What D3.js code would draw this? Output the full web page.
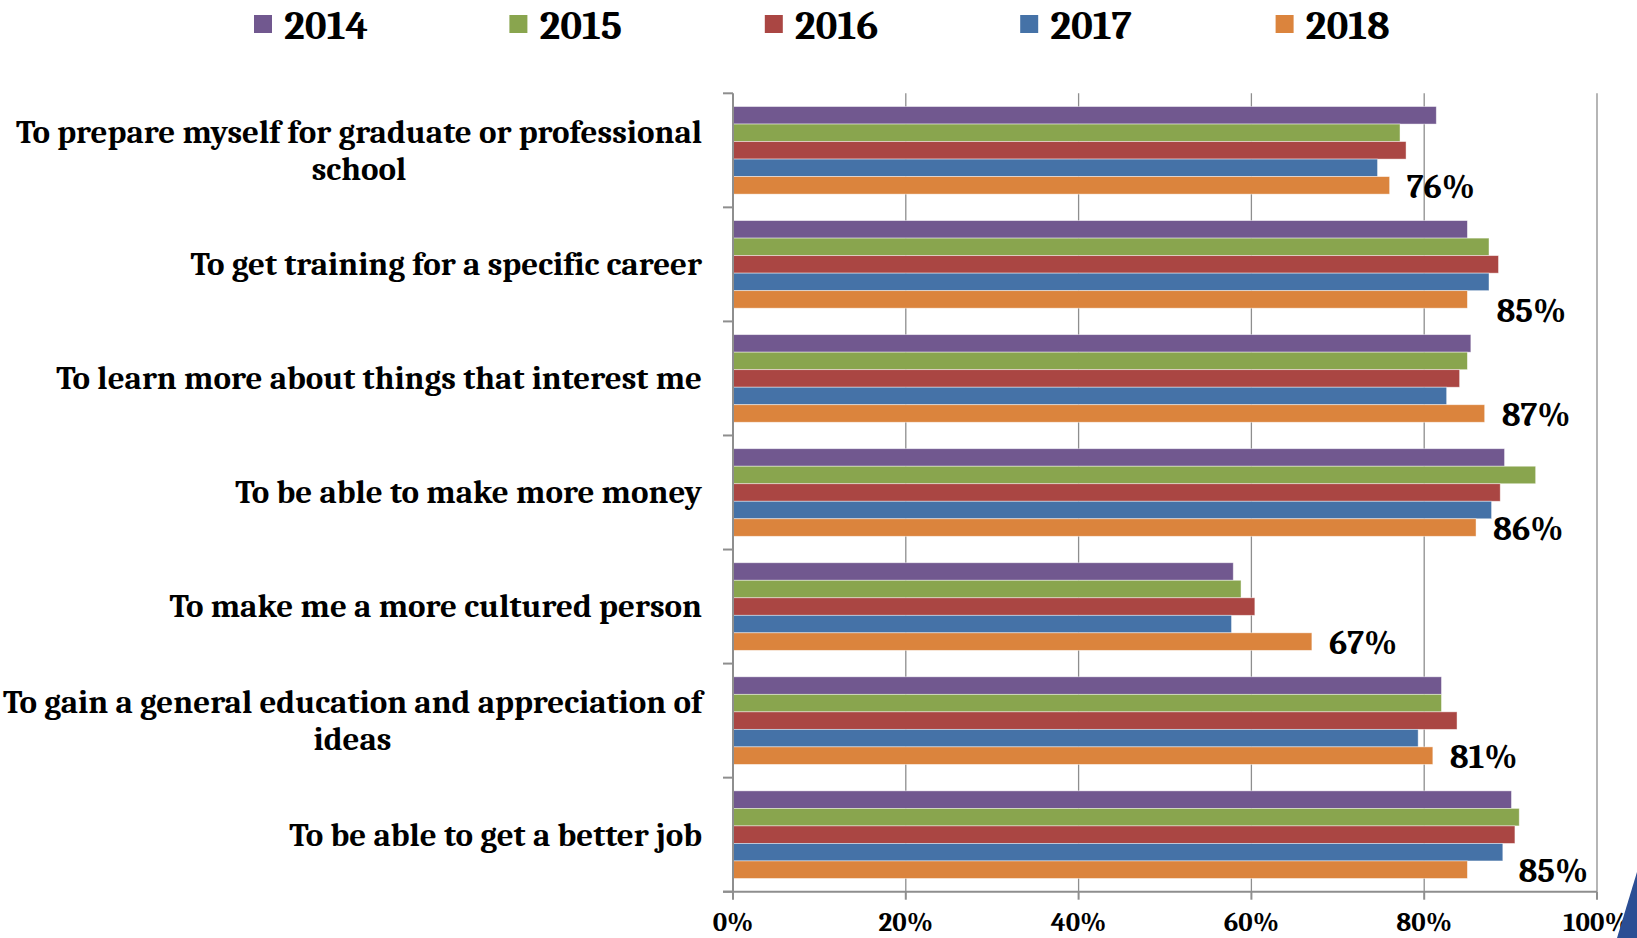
<!DOCTYPE html>
<html>
<head>
<meta charset="utf-8">
<script src="https://cdn.jsdelivr.net/npm/d3@7"></script>
<style>
  html, body { margin: 0; padding: 0; background: #ffffff; }
  svg { display: block; }
  text { font-family: Cambria, "Liberation Serif", "Times New Roman", serif; font-weight: bold; fill: #000; }
</style>
</head>
<body>
<svg id="chart" width="1637" height="938"></svg>
<script>
// Reasons for going to college, share of students by survey year
const categories = [
  "To prepare myself for graduate or professional|school",
  "To get training for a specific career",
  "To learn more about things that interest me",
  "To be able to make more money",
  "To make me a more cultured person",
  "To gain a general education and appreciation of|ideas",
  "To be able to get a better job"
];
const years = ["2014", "2015", "2016", "2017", "2018"];
const values2014 = [81.4, 85.0, 85.4, 89.3, 57.9, 82.0, 90.1];
const values2015 = [77.2, 87.5, 85.0, 92.9, 58.8, 82.0, 91.0];
const values2016 = [77.9, 88.6, 84.1, 88.8, 60.4, 83.8, 90.5];
const values2017 = [74.6, 87.5, 82.6, 87.8, 57.7, 79.3, 89.1];
const values2018 = [76, 85, 87, 86, 67, 81, 85];
const xTicks = [0, 20, 40, 60, 80, 100];
const seriesColors = ["#71588F", "#89A54E", "#AA4643", "#4572A7", "#DB843D"];

const series = [values2014, values2015, values2016, values2017, values2018];

const svg = d3.select("#chart");

const plot = { left: 733, right: 1597, top: 93.3, bottom: 891.7 };

const x = d3.scaleLinear().domain([0, 100]).range([plot.left, plot.right]);
const y0 = d3.scaleBand()
  .domain(d3.range(categories.length))
  .range([plot.top, plot.bottom])
  .paddingInner(0.232)
  .paddingOuter(0.116);
const y1 = d3.scaleBand().domain(d3.range(years.length)).range([0, y0.bandwidth()]);
const color = d3.scaleOrdinal().domain(d3.range(years.length)).range(seriesColors);

// vertical gridlines
svg.append("g")
  .selectAll("line")
  .data(xTicks.slice(1))
  .join("line")
  .attr("x1", d => x(d)).attr("x2", d => x(d))
  .attr("y1", plot.top).attr("y2", plot.bottom)
  .attr("stroke", "#8e8e8e")
  .attr("stroke-width", 1.3);

// bars
const groups = svg.append("g")
  .selectAll("g")
  .data(categories.map((c, i) => i))
  .join("g")
  .attr("transform", i => `translate(0,${y0(i)})`);

groups.selectAll("rect")
  .data(i => series.map((s, k) => ({ k, v: s[i] })))
  .join("rect")
  .attr("x", x(0))
  .attr("y", d => y1(d.k))
  .attr("width", d => x(d.v) - x(0))
  .attr("height", y1.bandwidth())
  .attr("fill", d => color(d.k))
  .attr("stroke", "rgba(255,255,255,0.55)")
  .attr("stroke-width", 0.8);

// axes
const step = y0.step();
const bandEdges = d3.range(categories.length + 1).map(i => plot.top + i * step);
const axisG = svg.append("g").attr("stroke", "#8e8e8e").attr("stroke-width", 2);
axisG.append("line")
  .attr("x1", x(0)).attr("x2", x(0)).attr("y1", plot.top).attr("y2", plot.bottom);
axisG.selectAll("line.ytick")
  .data(bandEdges)
  .join("line").attr("class", "ytick")
  .attr("x1", x(0) - 10).attr("x2", x(0))
  .attr("y1", d => d).attr("y2", d => d);
axisG.append("line")
  .attr("x1", x(0) - 10).attr("x2", plot.right).attr("y1", plot.bottom).attr("y2", plot.bottom);
axisG.selectAll("line.xtick")
  .data(xTicks)
  .join("line").attr("class", "xtick")
  .attr("x1", d => x(d)).attr("x2", d => x(d))
  .attr("y1", plot.bottom).attr("y2", plot.bottom + 8);

// x tick labels
svg.append("g")
  .selectAll("text")
  .data(xTicks)
  .join("text")
  .attr("x", d => x(d))
  .attr("y", 931)
  .attr("text-anchor", "middle")
  .style("font-size", "27px")
  .text(d => d + "%");

// category labels, right aligned; a second line sits centred under the first
const labelRight = 702;
const lineGap = 36.6;
categories.forEach((c, i) => {
  const lines = c.split("|");
  const cy = y0(i) + y0.bandwidth() / 2;
  const fs = 33;
  if (lines.length === 1) {
    svg.append("text")
      .attr("x", labelRight).attr("y", cy + fs * 0.33)
      .attr("text-anchor", "end")
      .style("font-size", fs + "px")
      .text(lines[0]);
  } else {
    const t1 = svg.append("text")
      .attr("x", labelRight).attr("y", cy - lineGap / 2 + fs * 0.33)
      .attr("text-anchor", "end")
      .style("font-size", fs + "px")
      .text(lines[0]);
    const w1 = t1.node().getComputedTextLength();
    svg.append("text")
      .attr("x", labelRight - w1 / 2).attr("y", cy + lineGap / 2 + fs * 0.33)
      .attr("text-anchor", "middle")
      .style("font-size", fs + "px")
      .text(lines[1]);
  }
});

// value labels on the 2018 bars
const labelNudge = { 1: [12, 10], 6: [34, 0] };
const last = years.length - 1;
svg.append("g")
  .selectAll("text")
  .data(values2018.map((v, i) => ({ v, i })))
  .join("text")
  .attr("x", d => x(d.v) + 17 + (labelNudge[d.i] ? labelNudge[d.i][0] : 0))
  .attr("y", d => y0(d.i) + y1(last) + y1.bandwidth() + 4 + (labelNudge[d.i] ? labelNudge[d.i][1] : 0))
  .style("font-size", "34px")
  .text(d => d3.format(".0f")(d.v) + "%");

// legend
const legendX0 = 254, legendStep = 255.4;
const legend = svg.append("g")
  .selectAll("g")
  .data(years)
  .join("g")
  .attr("transform", (d, k) => `translate(${legendX0 + k * legendStep},0)`);
legend.append("rect")
  .attr("x", 0).attr("y", 15).attr("width", 18).attr("height", 18)
  .attr("fill", (d, k) => color(k));
legend.append("text")
  .attr("x", 30).attr("y", 39)
  .style("font-size", "41px")
  .text(d => d);

// corner accent
svg.append("path")
  .attr("d", d3.line()([[1617, 938], [1637, 872], [1637, 938]]))
  .attr("fill", "#2B4E94");
</script>
</body>
</html>
